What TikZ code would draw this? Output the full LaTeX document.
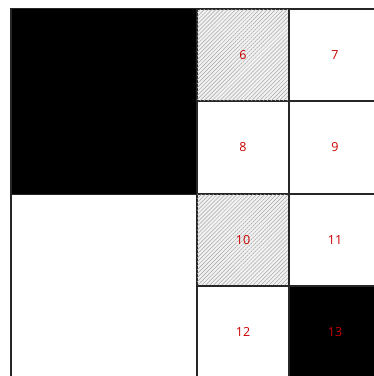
\documentclass[tikz,border=0pt]{standalone}
\usepackage{fontspec}
\setmainfont{Open Sans}
\usetikzlibrary{patterns.meta}
\tikzset{
  cell/.style={draw=black!85, line width=1.4pt, minimum size=92pt, inner sep=0pt, text=red!80!black, font=\fontsize{12.5}{14}\selectfont},
  bigcell/.style={cell, minimum size=186pt},
  hatched/.style={fill=gray!10, postaction={pattern={Lines[angle=45,distance=2.8pt,line width=0.5pt]}, pattern color=gray!70}}
}
\begin{document}
\begin{tikzpicture}[x=1pt,y=-1pt]
            \useasboundingbox (0,0) rectangle (374,376);
            \clip (0,0) rectangle (374,376);
            \fill[white] (0,0) rectangle (374,376);
            \node[bigcell, fill=black] (blk) at (104,101.5) {};
            \node[bigcell, fill=white] (wht) at (104,287.5) {};
            \node[cell, hatched] (c6) at (243,55) {6};
            \node[cell] (c7) at (335,55) {7};
            \node[cell] (c8) at (243,147.5) {8};
            \node[cell] (c9) at (335,147.5) {9};
            \node[cell, hatched] (c10) at (243,240) {10};
            \node[cell] (c11) at (335,240) {11};
            \node[cell] (c12) at (243,332) {12};
            \node[cell, fill=black] (c13) at (335,332) {13};
        \end{tikzpicture}
\end{document}
